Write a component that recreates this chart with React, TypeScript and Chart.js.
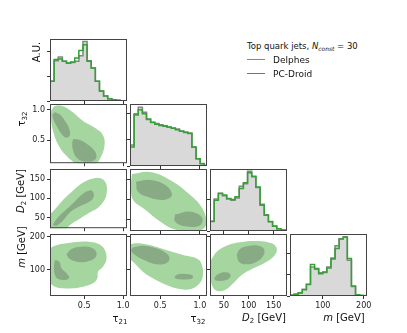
import React, { useEffect, useRef } from 'react';
import { Chart, registerables } from 'chart.js';

Chart.register(...registerables);

// ---------------- axis ranges and ticks ----------------
const TAU21_RANGE = [0.06, 1.05];
const TAU32_RANGE = [0.12, 1.09];
const D2_RANGE = [22, 177];
const M_RANGE = [20, 208];

const TAU21_TICKS = [0.5, 1.0];
const TAU32_TICKS = [0.5, 1.0];
const D2_TICKS = [50, 100, 150];
const M_TICKS = [100, 200];

// ---------------- 1D histograms (A.U.) ----------------
const TAU21_EDGES = [0.06, 0.113, 0.166, 0.219, 0.272, 0.325, 0.378, 0.431, 0.484, 0.537, 0.59, 0.643, 0.696, 0.749, 0.802, 0.855, 0.908, 0.961, 1.014, 1.067];
const TAU21_DELPHES = [0.8, 1.62, 1.77, 1.6, 1.52, 1.55, 1.6, 1.82, 2.4, 1.62, 1.33, 0.8, 0.4, 0.2, 0.09, 0.05, 0.03, 0.01, 0.005];
const TAU21_PCDROID = [0.8, 1.67, 1.69, 1.6, 1.53, 1.57, 1.73, 2.04, 2.27, 1.6, 1.33, 0.8, 0.4, 0.2, 0.09, 0.05, 0.03, 0.01, 0.005];

const TAU32_EDGES = [0.12, 0.172, 0.224, 0.276, 0.328, 0.38, 0.432, 0.484, 0.536, 0.588, 0.64, 0.692, 0.744, 0.796, 0.848, 0.9, 0.952, 1.004, 1.056, 1.108];
const TAU32_DELPHES = [0.8, 2.0, 2.25, 2.05, 1.78, 1.66, 1.62, 1.58, 1.54, 1.48, 1.45, 1.41, 1.34, 1.3, 1.26, 0.72, 0.28, 0.1, 0.02];
const TAU32_PCDROID = [0.73, 1.95, 2.15, 2.0, 1.8, 1.67, 1.6, 1.55, 1.52, 1.49, 1.44, 1.39, 1.33, 1.28, 1.24, 0.73, 0.28, 0.09, 0.02];

const D2_EDGES = [22, 30.4, 38.8, 47.2, 55.6, 64, 72.4, 80.8, 89.2, 97.6, 106, 114.4, 122.8, 131.2, 139.6, 148, 156.4, 164.8, 173.2, 181.6];
const D2_DELPHES = [0.3, 1.02, 1.2, 1.12, 1.02, 0.98, 1.05, 1.42, 1.5, 1.9, 1.72, 1.38, 0.85, 0.52, 0.3, 0.16, 0.07, 0.03, 0.01];
const D2_PCDROID = [0.31, 0.98, 1.19, 1.14, 1.03, 1.0, 1.09, 1.35, 1.53, 1.85, 1.74, 1.4, 0.82, 0.5, 0.29, 0.15, 0.07, 0.03, 0.01];

const M_EDGES = [20, 30, 40, 50, 60, 70, 80, 90, 100, 110, 120, 130, 140, 150, 160, 170, 180, 190, 200, 210];
const M_DELPHES = [0.03, 0.08, 0.15, 0.32, 0.56, 1.38, 1.27, 1.1, 1.12, 1.38, 1.8, 2.38, 2.72, 2.81, 1.7, 0.45, 0.06, 0.02, 0.005];
const M_PCDROID = [0.03, 0.08, 0.14, 0.3, 0.54, 1.49, 1.3, 1.06, 1.14, 1.33, 1.75, 2.25, 2.7, 2.78, 1.78, 0.48, 0.06, 0.02, 0.005];

const HIST_Y_MAX = [2.5, 2.37, 1.97, 2.94];
const HIST_Y_TICKS = [[0, 1, 2], [0, 1, 2], [0, 1], [0, 1, 2]];

// ---------------- 2D contour regions (x, y) in data units ----------------
const C_T21_T32_OUTER = [[0.075, 0.98], [0.12, 1.055], [0.21, 1.06], [0.337, 0.97], [0.486, 0.81], [0.656, 0.684], [0.741, 0.58], [0.762, 0.424], [0.72, 0.24], [0.64, 0.11], [0.42, 0.11], [0.273, 0.24], [0.166, 0.424], [0.103, 0.632], [0.073, 0.84]];
const C_T21_T32_INNER_A = [[0.124, 0.955], [0.188, 0.918], [0.252, 0.814], [0.307, 0.684], [0.315, 0.58], [0.273, 0.538], [0.222, 0.58], [0.154, 0.71], [0.103, 0.84], [0.094, 0.918]];
const C_T21_T32_INNER_B = [[0.358, 0.517], [0.443, 0.502], [0.549, 0.424], [0.635, 0.32], [0.656, 0.215], [0.605, 0.153], [0.486, 0.153], [0.401, 0.215], [0.358, 0.32], [0.346, 0.45]];

const C_T21_D2_OUTER = [[0.03, 51], [0.124, 71.5], [0.23, 96.2], [0.358, 121], [0.486, 141.6], [0.613, 152.3], [0.72, 152.3], [0.775, 141.6], [0.792, 121], [0.762, 96.2], [0.677, 75.6], [0.571, 63.3], [0.443, 46.8], [0.315, 30.3], [0.25, 15], [0.03, 15]];
const C_T21_D2_INNER = [[0.094, 30.4], [0.166, 51], [0.273, 71.5], [0.379, 92.1], [0.486, 112.7], [0.571, 121], [0.613, 116.8], [0.622, 104.5], [0.571, 92.1], [0.443, 79.7], [0.315, 63.3], [0.23, 42.7], [0.145, 28.7]];

const C_T21_M_OUTER = [[0.03, 159.5], [0.124, 172.6], [0.273, 179.7], [0.443, 184.8], [0.613, 182.8], [0.72, 172.6], [0.775, 154.5], [0.784, 129.2], [0.741, 109], [0.677, 93.8], [0.669, 73.7], [0.613, 58.5], [0.486, 48.4], [0.358, 43.4], [0.23, 43.4], [0.124, 48.4], [0.069, 58.5], [0.03, 93.8]];
const C_T21_M_INNER_A = [[0.273, 146.4], [0.337, 162.5], [0.464, 169.6], [0.592, 166.6], [0.656, 152.5], [0.635, 134.3], [0.528, 124.2], [0.401, 124.2], [0.303, 134.3]];
const C_T21_M_INNER_B = [[0.124, 129.2], [0.179, 124.2], [0.209, 104], [0.273, 88.8], [0.307, 75.7], [0.252, 68.6], [0.166, 71.6], [0.124, 83.8], [0.111, 109]];

const C_T32_D2_OUTER = [[0.145, 164.6], [0.372, 169.6], [0.624, 149.8], [0.876, 112.7], [1.04, 75.6], [1.077, 36], [0.94, 21], [0.687, 26], [0.498, 46], [0.309, 75.6], [0.158, 100], [0.133, 137]];
const C_T32_D2_INNER_A = [[0.196, 144.9], [0.372, 149.8], [0.56, 137.4], [0.649, 112.7], [0.56, 100.4], [0.372, 105.3], [0.221, 120]];
const C_T32_D2_INNER_B = [[0.687, 63.3], [0.876, 70.7], [1.027, 55.9], [1.0, 36], [0.813, 33.6], [0.687, 46]];

const C_T32_M_OUTER = [[0.1, 174.7], [0.198, 179.7], [0.366, 174.7], [0.577, 159.5], [0.787, 144.4], [0.955, 134.3], [1.018, 119.2], [1.039, 83.8], [0.997, 58.5], [0.892, 41.4], [0.745, 41.4], [0.577, 53.5], [0.408, 73.7], [0.282, 93.8], [0.177, 119.2], [0.1, 139.3]];
const C_T32_M_INNER_A = [[0.147, 166.6], [0.282, 172.6], [0.45, 164.6], [0.577, 149.4], [0.619, 134.3], [0.577, 119.2], [0.45, 116.2], [0.324, 126.2], [0.198, 142.4], [0.135, 156.5]];
const C_T32_M_INNER_B = [[0.682, 78.7], [0.724, 85.7], [0.829, 86.8], [0.905, 82.7], [0.913, 75.7], [0.85, 70.6], [0.745, 70.6], [0.69, 73.7]];

const C_D2_M_OUTER = [[24, 129.2], [35.5, 154.5], [55.5, 172.6], [82.4, 182.8], [116, 186.8], [146.1, 179.7], [156.2, 164.6], [152.8, 144.4], [136.1, 124.2], [109.2, 104], [85.8, 83.8], [68.9, 58.5], [52.2, 38.3], [35.5, 36], [25.4, 55], [23, 95]];
const C_D2_M_INNER_A = [[75.7, 144.4], [82.4, 162.5], [99.1, 171.6], [119.2, 172.6], [130.7, 162.5], [129.3, 142.4], [116, 124.2], [95.8, 116.2], [81, 122.2]];
const C_D2_M_INNER_B = [[30.7, 75.7], [38.8, 86.8], [54.2, 91.8], [63.6, 83.8], [58.9, 71.6], [42.1, 65.6], [32.8, 67.6]];

// ---------------- assembly ----------------
const RANGES = [TAU21_RANGE, TAU32_RANGE, D2_RANGE, M_RANGE];
const TICKS = [TAU21_TICKS, TAU32_TICKS, D2_TICKS, M_TICKS];
const HISTS = [
  { edges: TAU21_EDGES, delphes: TAU21_DELPHES, pc: TAU21_PCDROID },
  { edges: TAU32_EDGES, delphes: TAU32_DELPHES, pc: TAU32_PCDROID },
  { edges: D2_EDGES, delphes: D2_DELPHES, pc: D2_PCDROID },
  { edges: M_EDGES, delphes: M_DELPHES, pc: M_PCDROID },
];
const CONTOURS: Record<string, { outer: number[][]; inner: number[][][] }> = {
  '1-0': { outer: C_T21_T32_OUTER, inner: [C_T21_T32_INNER_A, C_T21_T32_INNER_B] },
  '2-0': { outer: C_T21_D2_OUTER, inner: [C_T21_D2_INNER] },
  '3-0': { outer: C_T21_M_OUTER, inner: [C_T21_M_INNER_A, C_T21_M_INNER_B] },
  '2-1': { outer: C_T32_D2_OUTER, inner: [C_T32_D2_INNER_A, C_T32_D2_INNER_B] },
  '3-1': { outer: C_T32_M_OUTER, inner: [C_T32_M_INNER_A, C_T32_M_INNER_B] },
  '3-2': { outer: C_D2_M_OUTER, inner: [C_D2_M_INNER_A, C_D2_M_INNER_B] },
};

const FMT = [
  (v: number) => v.toFixed(1),
  (v: number) => v.toFixed(1),
  (v: number) => String(Math.round(v)),
  (v: number) => String(Math.round(v)),
];

const GREY_FILL = '#d9d9d9';
const GREY_LINE = '#868686';
const GREEN = '#35a035';
const OUTER_COL = '#a6d6a0';
const INNER_COL = '#88aa85';

// layout (pixels)
const PANEL_LEFT = [50, 130, 210, 290];
const PANEL_TOP = [39, 104, 169, 234];
const PW = 77;
const PH = 62;
const FONT = '"DejaVu Sans", sans-serif';

const framePlugin = {
  id: 'frame',
  afterDraw(chart: any) {
    const { ctx, chartArea: a } = chart;
    ctx.save();
    ctx.strokeStyle = '#444';
    ctx.lineWidth = 1;
    ctx.strokeRect(a.left + 0.5, a.top + 0.5, a.right - a.left - 1, a.bottom - a.top - 1);
    ctx.restore();
  },
};

function axisOpts(pos: string, range: number[], ticks: number[], showLabels: boolean, fmt: (v: number) => string, size: number) {
  return {
    type: 'linear',
    position: pos,
    min: range[0],
    max: range[1],
    afterBuildTicks: (s: any) => {
      s.ticks = ticks.map((v) => ({ value: v }));
    },
    afterFit: (s: any) => {
      if (pos === 'left') s.width = size;
      else s.height = size;
    },
    grid: { drawOnChartArea: false, drawTicks: true, tickLength: 3, color: '#333', tickWidth: 1 },
    border: { display: false },
    ticks: {
      display: showLabels,
      padding: 2,
      autoSkip: false,
      maxRotation: 0,
      color: '#222',
      font: { family: FONT, size: 8 },
      callback: (v: any) => fmt(Number(v)),
    },
  };
}

function stepPoints(edges: number[], vals: number[]) {
  const pts = vals.map((v, i) => ({ x: edges[i], y: v }));
  pts.push({ x: edges[vals.length], y: vals[vals.length - 1] });
  return pts;
}

function poly(pts: number[][], color: string, order: number) {
  return {
    data: [...pts, pts[0]].map(([x, y]) => ({ x, y })),
    fill: 'shape',
    backgroundColor: color,
    borderColor: 'rgba(0,0,0,0)',
    borderWidth: 0,
    tension: 0.4,
    order,
    pointRadius: 0,
  };
}

function buildConfig(row: number, col: number, L: number, B: number, T: number, R: number): any {
  const diag = row === col;
  let datasets: any[];
  if (diag) {
    const h = HISTS[row];
    datasets = [
      { data: stepPoints(h.edges, h.pc), stepped: true, borderColor: GREEN, borderWidth: 1.5, fill: false, order: 1, pointRadius: 0 },
      { data: stepPoints(h.edges, h.delphes), stepped: true, borderColor: GREY_LINE, borderWidth: 1.5, backgroundColor: GREY_FILL, fill: 'origin', order: 2, pointRadius: 0 },
    ];
  } else {
    const c = CONTOURS[`${row}-${col}`];
    datasets = [poly(c.outer, OUTER_COL, 5), ...c.inner.map((p) => poly(p, INNER_COL, 1))];
  }
  const yRange = diag ? [0, HIST_Y_MAX[row]] : RANGES[row];
  const yTicks = diag ? HIST_Y_TICKS[row] : TICKS[row];
  return {
    type: 'line',
    data: { datasets },
    options: {
      animation: false,
      responsive: false,
      devicePixelRatio: 1,
      events: [],
      layout: { padding: { left: 0, top: T, right: R, bottom: 0 } },
      plugins: { legend: { display: false }, tooltip: { enabled: false } },
      elements: { point: { radius: 0, hoverRadius: 0 } },
      scales: {
        x: axisOpts('bottom', RANGES[col], TICKS[col], row === 3, FMT[col], B),
        y: axisOpts('left', yRange, yTicks, col === 0 && !diag, FMT[row], L),
      },
    },
    plugins: [framePlugin],
  };
}

function Panel({ row, col }: { row: number; col: number }) {
  const ref = useRef<HTMLCanvasElement>(null);
  const L = col === 0 ? 50 : 4;
  const B = row === 3 ? 18 : 4;
  const T = 8;
  const R = 14;
  const w = L + PW + R;
  const h = T + PH + B;
  useEffect(() => {
    const chart = new Chart(ref.current as HTMLCanvasElement, buildConfig(row, col, L, B, T, R));
    return () => chart.destroy();
  }, []);
  return (
    <canvas
      ref={ref}
      width={w}
      height={h}
      style={{ position: 'absolute', left: PANEL_LEFT[col] - L, top: PANEL_TOP[row] - T, width: w, height: h }}
    />
  );
}

const Sub = ({ children, italic }: { children: any; italic?: boolean }) => (
  <span style={{ fontSize: '0.7em', position: 'relative', top: '0.3em', fontStyle: italic ? 'italic' : 'normal' }}>{children}</span>
);

function Label({ x, y, rotate, size = 10, children }: { x: number; y: number; rotate?: boolean; size?: number; children: any }) {
  return (
    <div
      style={{
        position: 'absolute',
        left: x,
        top: y,
        transform: `translate(-50%, -50%)${rotate ? ' rotate(-90deg)' : ''}`,
        whiteSpace: 'nowrap',
        fontSize: size,
        lineHeight: `${size + 2}px`,
        fontFamily: FONT,
        color: '#111',
      }}
    >
      {children}
    </div>
  );
}

export default function App() {
  const panels: any[] = [];
  for (let r = 0; r < 4; r++) for (let c = 0; c <= r; c++) panels.push(<Panel key={`${r}-${c}`} row={r} col={c} />);
  return (
    <div style={{ position: 'absolute', left: 0, top: 0, width: 407, height: 333, background: '#fff', overflow: 'hidden', fontFamily: FONT }}>
      {panels}
      {/* y axis titles */}
      <Label x={37} y={52} rotate>A.U.</Label>
      <Label x={22} y={119} rotate>τ<Sub>32</Sub></Label>
      <Label x={21} y={191} rotate><i>D</i><Sub>2</Sub> [GeV]</Label>
      <Label x={22} y={247} rotate><i>m</i> [GeV]</Label>
      {/* x axis titles */}
      <Label x={120} y={319}>τ<Sub>21</Sub></Label>
      <Label x={198} y={319}>τ<Sub>32</Sub></Label>
      <Label x={264} y={318}><i>D</i><Sub>2</Sub> [GeV]</Label>
      <Label x={344} y={318}><i>m</i> [GeV]</Label>
      {/* legend */}
      <div style={{ position: 'absolute', left: 247, top: 46, transform: 'translateY(-50%)', fontSize: 8.5, lineHeight: '11px', whiteSpace: 'nowrap', color: '#111' }}>
        Top quark jets, <i>N</i><Sub italic>const</Sub> = 30
      </div>
      <div style={{ position: 'absolute', left: 247, top: 58.5, width: 18, height: 1.5, background: GREY_LINE }} />
      <div style={{ position: 'absolute', left: 273, top: 59.5, transform: 'translateY(-50%)', fontSize: 9, lineHeight: '11px', whiteSpace: 'nowrap', color: '#111' }}>Delphes</div>
      <div style={{ position: 'absolute', left: 247, top: 72.5, width: 18, height: 1.5, background: GREEN }} />
      <div style={{ position: 'absolute', left: 273, top: 73.5, transform: 'translateY(-50%)', fontSize: 9, lineHeight: '11px', whiteSpace: 'nowrap', color: '#111' }}>PC-Droid</div>
    </div>
  );
}
